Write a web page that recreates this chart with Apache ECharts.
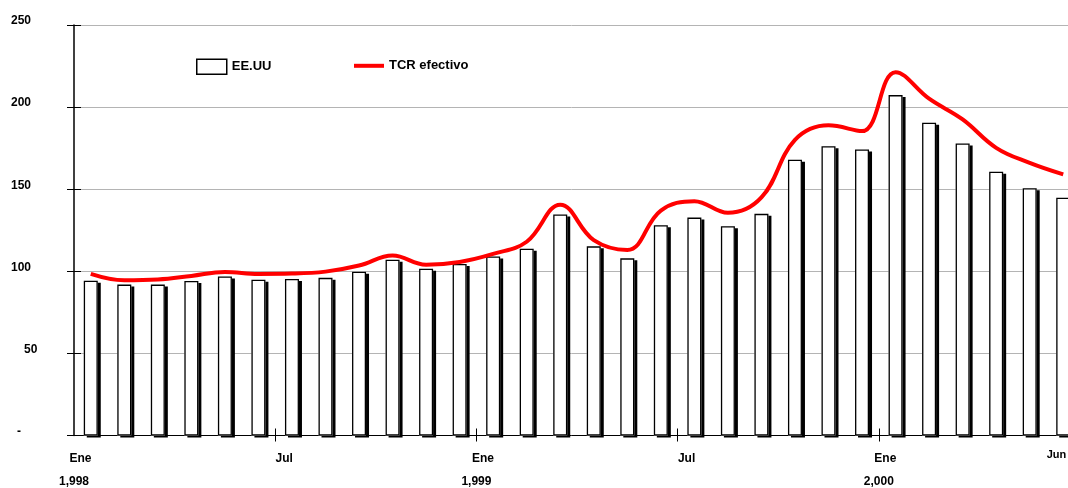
<!DOCTYPE html>
<html>
<head>
<meta charset="utf-8">
<script src="https://cdn.jsdelivr.net/npm/echarts@6/dist/echarts.min.js"></script>
<style>
  html, body { margin: 0; padding: 0; background: #fff; }
  #chart { width: 1068px; height: 488px; }
</style>
</head>
<body>
<div id="chart"></div>
<script>
// Monthly categories, Jan 1998 - Jun 2000
const months = [
  'Ene 1998','Feb 1998','Mar 1998','Abr 1998','May 1998','Jun 1998',
  'Jul 1998','Ago 1998','Sep 1998','Oct 1998','Nov 1998','Dic 1998',
  'Ene 1999','Feb 1999','Mar 1999','Abr 1999','May 1999','Jun 1999',
  'Jul 1999','Ago 1999','Sep 1999','Oct 1999','Nov 1999','Dic 1999',
  'Ene 2000','Feb 2000','Mar 2000','Abr 2000','May 2000','Jun 2000'
];

// EE.UU index (bars)
const eeuu = [
  94.3, 91.9, 91.9, 94.1, 96.8, 94.9, 95.3, 96.0, 99.8, 107.1, 101.6, 104.5,
  109.0, 113.8, 134.6, 115.2, 107.9, 128.0, 132.7, 127.4, 135.0, 167.9, 176.2, 174.2,
  207.3, 190.5, 177.9, 160.6, 150.6, 144.8
];

// TCR efectivo (smoothed line)
const tcr = [
  98.4, 94.5, 95.0, 97.2, 99.6, 98.4, 98.6, 99.8, 103.5, 109.6, 104.0, 105.7,
  110.6, 118.0, 140.6, 119.0, 113.0, 137.0, 142.7, 135.6, 145.0, 180.0, 188.9, 185.4,
  221.3, 205.1, 192.5, 175.2, 166.0, 159.0
];

// Labels placed on the month boundaries (31 boundaries for 30 months)
const monthTickLabels = [
  'Ene','','','','','','Jul','','','','','',
  'Ene','','','','','','Jul','','','','','',
  'Ene','','','','','Jun',''
];
const yearTickLabels = [
  '1,998','','','','','','','','','','','',
  '1,999','','','','','','','','','','','',
  '2,000','','','','','',''
];

const FONT = 'Liberation Sans, Arial, sans-serif';
const chart = echarts.init(document.getElementById('chart'), null, { renderer: 'canvas' });

const tickEvery6 = (i) => i % 6 === 0 && i > 0 && i < 30;

chart.setOption({
  animation: false,
  backgroundColor: '#ffffff',
  textStyle: { fontFamily: FONT },
  grid: { left: 74, top: 25, width: 1006, height: 410.5, containLabel: false, outerBoundsMode: 'none' },
  legend: [
    {
      data: ['EE.UU'],
      left: 196, top: 58.5, padding: 0,
      icon: 'rect', itemWidth: 30, itemHeight: 15,
      itemStyle: { color: '#fff', borderColor: '#000', borderWidth: 1.5, shadowColor: 'rgba(0,0,0,0)', shadowOffsetX: 0, shadowOffsetY: 0 },
      textStyle: { fontFamily: FONT, fontWeight: 'bold', fontSize: 13, color: '#000', padding: [0, 0, 10, 0] }
    },
    {
      data: ['TCR efectivo'],
      left: 354, top: 59.3, padding: 0,
      icon: 'rect', itemWidth: 30, itemHeight: 4,
      itemStyle: { color: '#ff0000', borderWidth: 0 },
      textStyle: { fontFamily: FONT, fontWeight: 'bold', fontSize: 13, color: '#000', padding: [0, 0, 6, 0] }
    }
  ],
  xAxis: [
    {
      type: 'category',
      data: months,
      boundaryGap: true,
      axisLine: { show: true, lineStyle: { color: '#000', width: 1 } },
      axisTick: { show: false },
      axisLabel: { show: false },
      splitLine: { show: false }
    },
    {
      type: 'category',
      data: monthTickLabels,
      boundaryGap: false,
      position: 'bottom',
      axisLine: { show: false },
      axisTick: { show: true, interval: tickEvery6, length: 6, inside: false, lineStyle: { color: '#000', width: 1 } },
      axisLabel: {
        show: true, interval: 0, align: 'center', verticalAlign: 'middle', margin: 23.5,
        formatter: (v) => v === 'Ene' ? '{e|Ene}' : v === 'Jul' ? '{j|Jul}' : v === 'Jun' ? '{u|Jun}' : '',
        rich: {
          e: { fontFamily: FONT, fontWeight: 'bold', fontSize: 12, color: '#000', padding: [0, 0, 0, 13] },
          j: { fontFamily: FONT, fontWeight: 'bold', fontSize: 12, color: '#000', padding: [0, 0, 0, 18] },
          u: { fontFamily: FONT, fontWeight: 'bold', fontSize: 11, color: '#000', padding: [0, 0, 8, 20] }
        }
      },
      splitLine: { show: false }
    },
    {
      type: 'category',
      data: yearTickLabels,
      boundaryGap: false,
      position: 'bottom',
      axisLine: { show: false },
      axisTick: { show: true, interval: tickEvery6, length: 7, inside: true, lineStyle: { color: '#000', width: 1 } },
      axisLabel: {
        show: true, interval: 0, align: 'center', verticalAlign: 'middle', margin: 46.5,
        fontFamily: FONT, fontWeight: 'bold', fontSize: 12, color: '#000'
      },
      splitLine: { show: false }
    }
  ],
  yAxis: [
    {
      type: 'value',
      min: 0, max: 250, interval: 50,
      axisLine: { show: true, lineStyle: { color: '#000', width: 1.5 } },
      axisTick: { show: true, length: 7, inside: false, lineStyle: { color: '#000', width: 1 } },
      splitLine: { show: true, lineStyle: { color: '#b4b4b4', width: 1 } },
      axisLabel: {
        show: true, align: 'left', verticalAlign: 'middle', margin: 63,
        formatter: (v) => v === 0 ? '{z|-}' : v === 50 ? '{f|50}' : '{n|' + v + '}',
        rich: {
          n: { fontFamily: FONT, fontWeight: 'bold', fontSize: 12, color: '#000', padding: [0, 0, 8, 0] },
          f: { fontFamily: FONT, fontWeight: 'bold', fontSize: 12, color: '#000', padding: [0, 0, 8, 13] },
          z: { fontFamily: FONT, fontWeight: 'bold', fontSize: 12, color: '#000', padding: [0, 0, 8, 6] }
        }
      }
    },
    {
      type: 'value',
      min: 0, max: 250, interval: 50,
      position: 'left',
      axisLine: { show: false },
      axisTick: { show: true, length: 7, inside: true, lineStyle: { color: '#000', width: 1 } },
      splitLine: { show: false },
      axisLabel: { show: false }
    }
  ],
  series: [
    {
      // solid bar body casting the dark offset shadow
      name: 'EE.UU fondo',
      type: 'bar',
      xAxisIndex: 0,
      yAxisIndex: 0,
      data: eeuu,
      barWidth: 14,
      barGap: '-100%',
      itemStyle: {
        color: '#ffffff',
        borderWidth: 0,
        shadowColor: '#000000',
        shadowBlur: 0,
        shadowOffsetX: 3,
        shadowOffsetY: 2
      },
      emphasis: { disabled: true },
      z: 2
    },
    {
      // outline of the same bars, drawn on top
      name: 'EE.UU',
      type: 'bar',
      xAxisIndex: 0,
      yAxisIndex: 0,
      data: eeuu,
      barWidth: 14,
      barGap: '-100%',
      itemStyle: {
        color: 'rgba(255,255,255,0)',
        borderColor: '#000000',
        borderWidth: 1.3
      },
      z: 3
    },
    {
      name: 'TCR efectivo',
      type: 'line',
      xAxisIndex: 0,
      yAxisIndex: 0,
      data: tcr,
      smooth: 0.4,
      symbol: 'none',
      lineStyle: { color: '#ff0000', width: 4 },
      itemStyle: { color: '#ff0000' },
      z: 4
    }
  ]
});
</script>
</body>
</html>
